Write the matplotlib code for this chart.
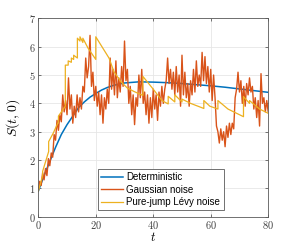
import matplotlib
matplotlib.use("Agg")
import matplotlib.pyplot as plt
from matplotlib.ticker import FuncFormatter

# deterministic solution (smooth curve)
det_t = [0, 2, 4, 6, 8, 10, 12, 14, 16, 18, 20, 22, 24, 26, 28, 30,
         35, 40, 45, 50, 55, 60, 65, 70, 75, 80]
det_s = [0.90, 1.45, 1.95, 2.45, 2.90, 3.25, 3.55, 3.85, 4.05, 4.22, 4.35,
         4.47, 4.56, 4.63, 4.68, 4.72, 4.76, 4.75, 4.73, 4.70, 4.66, 4.62,
         4.57, 4.51, 4.45, 4.39]

# Gaussian noise path, sampled every 0.5 in t
gauss_t = [i * 0.5 for i in range(161)]
gauss_s = [
    0.92, 1.25, 1.10, 1.55, 1.30, 1.70, 1.45, 2.05, 1.80, 2.25,
    2.10, 2.90, 2.70, 3.40, 3.05, 3.60, 3.35, 4.30, 3.70, 4.10,
    3.60, 4.90, 3.80, 4.30, 3.30, 3.90, 3.50, 4.30, 3.70, 4.20,
    3.80, 4.60, 4.40, 5.60, 4.90, 5.30, 6.40, 4.60, 5.10, 4.10,
    4.60, 3.90, 4.40, 3.60, 4.30, 3.30, 4.20, 3.80, 4.50, 4.00,
    5.60, 4.50, 5.20, 4.30, 5.50, 4.20, 4.90, 4.40, 5.30, 4.60,
    6.20, 4.80, 5.20, 4.00, 4.60, 3.60, 4.30, 3.25, 4.20, 3.90,
    5.00, 4.20, 5.20, 4.00, 4.40, 3.60, 4.30, 3.30, 4.20, 3.50,
    4.50, 3.80, 4.30, 3.40, 4.40, 3.90, 4.60, 4.00, 4.50, 4.80,
    5.60, 4.70, 5.20, 4.50, 5.10, 4.30, 5.30, 4.40, 5.00, 3.90,
    5.70, 4.30, 5.10, 4.20, 4.70, 3.90, 4.80, 4.30, 5.20, 4.40,
    5.50, 4.60, 5.00, 4.60, 5.80, 4.80, 5.65, 4.70, 5.30, 4.40,
    5.20, 4.10, 5.00, 4.20, 3.20, 3.00, 2.60, 3.10, 2.70, 3.00,
    2.47, 3.20, 2.80, 3.30, 2.90, 3.30, 3.10, 4.20, 4.50, 5.10,
    4.40, 4.80, 4.00, 4.60, 3.90, 4.70, 4.30, 4.90, 4.40, 4.60,
    3.80, 4.20, 3.50, 4.10, 3.20, 5.05, 4.00, 4.20, 3.70, 4.10,
    3.70,
]

# pure-jump Levy path (vertices, repeated t = jump)
levy_t = [0, 1.5, 1.5, 3.6, 3.6, 5.2, 7.0, 7.0, 9.4, 9.4, 10.4, 10.4,
          11.5, 11.5, 12.3, 12.3, 13.6, 13.6, 14.5, 14.5, 15.5, 15.5,
          17.3, 20.0, 20.0, 24.6, 26.3, 28.7, 31.0, 33.3, 36.4, 36.4,
          40.0, 43.0, 45.2, 45.2, 47.5, 47.5, 50.0, 50.0, 53.0, 57.6,
          57.6, 59.7, 62.5, 62.5, 66.0, 71.4, 71.4, 73.5, 73.5, 77.0, 80.0]
levy_s = [0.90, 1.45, 1.60, 2.30, 2.65, 2.95, 3.35, 3.55, 3.90, 5.35,
          5.35, 5.50, 5.45, 5.60, 5.55, 5.70, 5.60, 6.30, 6.20, 6.35,
          6.15, 6.30, 5.95, 5.55, 6.35, 5.60, 5.12, 4.77, 4.54, 4.42,
          4.28, 4.95, 4.50, 4.10, 3.98, 4.25, 4.05, 4.30, 4.05, 4.15,
          4.00, 3.82, 4.10, 3.90, 3.80, 4.10, 3.80, 3.53, 4.24, 4.00,
          4.10, 3.80, 3.65]

plt.rcParams["mathtext.fontset"] = "cm"

fig = plt.figure(figsize=(2.97, 2.45), dpi=100)
ax = fig.add_axes([0.129, 0.1155, 0.774, 0.8095])

ax.plot(det_t, det_s, color="#0072BD", lw=1.1, label="Deterministic")
ax.plot(gauss_t, gauss_s, color="#D95319", lw=1.0, label="Gaussian noise")
ax.plot(levy_t, levy_s, color="#EDB120", lw=0.9, label="Pure-jump Lévy noise")

ax.set_xlim(0, 80)
ax.set_ylim(0, 7)
ax.set_xticks([0, 20, 40, 60, 80])
ax.set_yticks(range(8))
ax.xaxis.set_major_formatter(FuncFormatter(lambda v, p: f"${v:g}$"))
ax.yaxis.set_major_formatter(FuncFormatter(lambda v, p: f"${v:g}$"))
ax.tick_params(direction="in", length=2.5, width=0.5, labelsize=7.5,
               top=True, right=True, colors="#404040", pad=2)
ax.grid(True, color="#e6e6e6", lw=0.6)
ax.set_axisbelow(True)
for sp in ax.spines.values():
    sp.set_color("#5a5a5a")
    sp.set_linewidth(0.6)

ax.set_xlabel("$t$", fontsize=9)
ax.xaxis.set_label_coords(0.5, -0.074)
ax.set_ylabel("$S(t,0)$", fontsize=10, labelpad=5)

leg = ax.legend(loc="lower left", bbox_to_anchor=(0.258, 0.032),
                prop={"family": "Liberation Sans", "size": 7},
                fancybox=False, edgecolor="#5a5a5a", framealpha=1,
                handlelength=2.3, handletextpad=0.3, borderpad=0.35,
                labelspacing=0.25, borderaxespad=0)
leg.get_frame().set_linewidth(0.6)

fig.savefig("out.png", dpi=100)
